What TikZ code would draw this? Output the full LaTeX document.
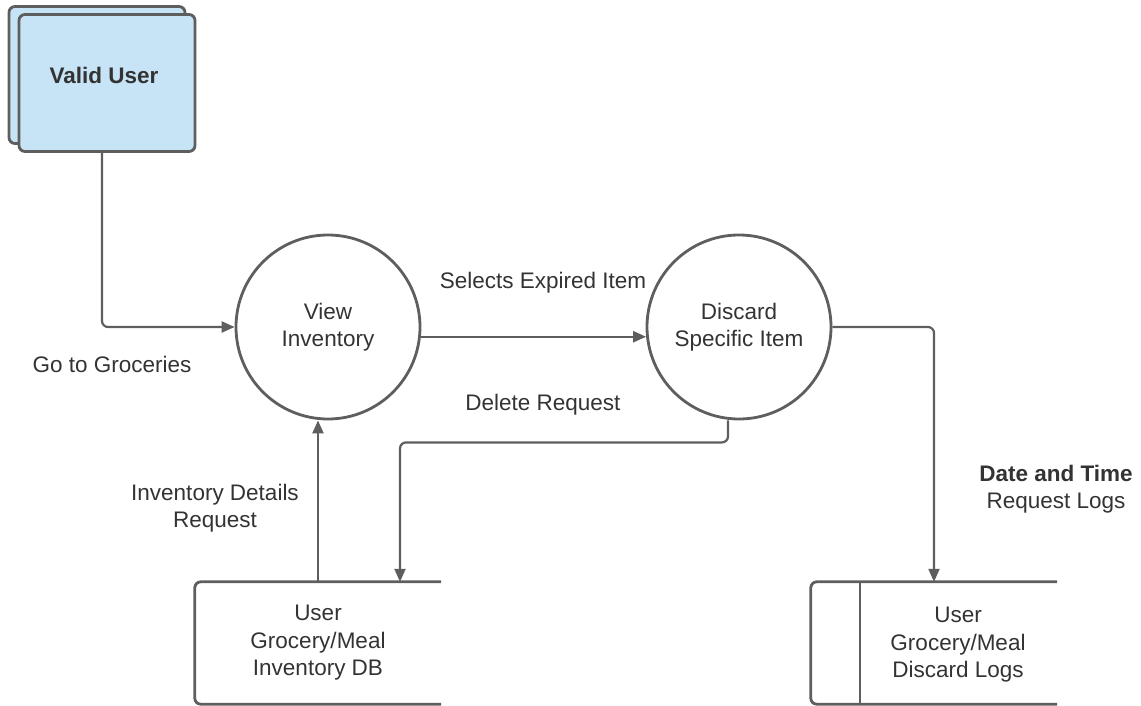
\documentclass[tikz,border=0pt]{standalone}
\usepackage{fontspec}
\setmainfont{Liberation Sans}
\usetikzlibrary{arrows.meta,calc}
\definecolor{ln}{HTML}{5E5E5E}
\definecolor{tx}{HTML}{333333}
\definecolor{ent}{HTML}{C6E4F6}
\begin{document}
\begin{tikzpicture}[x=1pt,y=-1pt,
  every node/.style={text=tx,font=\fontsize{22.5}{27.5}\selectfont},
  line/.style={draw=ln,line width=2.8pt},
  flow/.style={draw=ln,line width=2.2pt,rounded corners=6pt,-{Triangle[length=13pt,width=11pt]}},
  proc/.style={circle,line,minimum size=184pt,inner sep=0pt,align=center},
  entbox/.style={rectangle,rounded corners=6pt,line,fill=ent,minimum width=176pt,minimum height=137pt},
  storebox/.style={rectangle,minimum width=246pt,minimum height=122pt,align=center,inner sep=0pt},
  lbl/.style={align=center,inner sep=0pt}]
\useasboundingbox (0,0) rectangle (1141,706);
% external entity
\node[entbox] (vub) at (97,75) {};
\node[entbox] (vu) at (107,83) {};
\node[lbl,font=\fontsize{22.5}{27.5}\selectfont\bfseries] (vut) at (104,75) {Valid User};
% processes
\node[proc] (vi) at (328,327) {View\\Inventory};
\node[proc] (ds) at (739,327) {Discard\\Specific Item};
% stores
\node[storebox] (db) at (318,643) {User\\Grocery/Meal\\Inventory DB};
\draw[line,rounded corners=6pt] (db.north east) -- (db.north west) -- (db.south west) -- (db.south east);
\node[storebox] (lg) at (934,643) {};
\node[lbl] (lgt) at (958,645) {User\\Grocery/Meal\\Discard Logs};
\draw[line,rounded corners=6pt] (lg.north east) -- (lg.north west) -- (lg.south west) -- (lg.south east);
\coordinate (dvt) at (860,582);
\coordinate (dvb) at (860,704);
\draw[line] (dvt) -- (dvb);
% connectors
\draw[flow] ($(vu.south)+(-5,0)$) |- (vi.west);
\draw[flow] (vi.-6) -- (ds.186);
\draw[flow] ($(ds.south)+(-11,0)$) -- ++(0,22) -| ($(db.north)+(82,0)$);
\draw[flow] (db.north) -- (db.north |- vi.south);
\draw[flow] (ds.east) -| (lg.north);
% labels
\node[lbl] (l1) at (112,364) {Go to Groceries};
\node[lbl] (l2) at (543,283) {Selects Expired Item};
\node[lbl] (l3) at (543,405) {Delete Request};
\node[lbl] (l4) at (215,508) {Inventory Details\\Request};
\node[lbl] (l5) at (1056,489) {\textbf{Date and Time}\\Request Logs};
\end{tikzpicture}
\end{document}
